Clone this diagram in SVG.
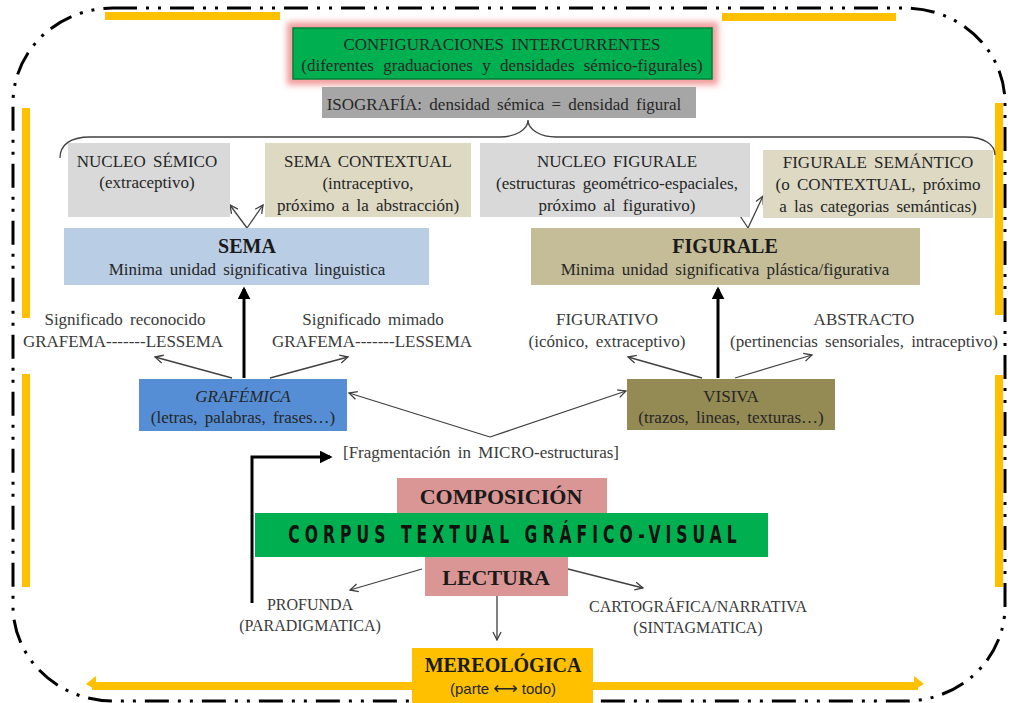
<svg xmlns="http://www.w3.org/2000/svg" width="1010" height="703" viewBox="0 0 1010 703">
<defs>
<style>
.s{font-family:"Liberation Serif","Times New Roman",serif;font-size:17px;fill:#262626;text-anchor:middle;word-spacing:3px}
.g{fill:#3a3a3a}
.sm{font-size:16px;word-spacing:1px}
.b{font-weight:bold;font-size:20px;fill:#1a1a1a}
.bb{font-weight:bold;font-size:22px;fill:#1a1a1a}
.thin{fill:none;stroke:#404040;stroke-width:1.3;marker-end:url(#open)}
.thick{fill:none;stroke:#000;stroke-width:3}
.ybar{fill:#FFC000}
</style>
<marker id="open" viewBox="0 0 10 10" refX="9" refY="5" markerWidth="10" markerHeight="10" orient="auto" markerUnits="userSpaceOnUse">
<path d="M1,1 L9,5 L1,9" fill="none" stroke="#404040" stroke-width="1.3"/>
</marker>
<marker id="solid" viewBox="0 0 10 10" refX="8" refY="5" markerWidth="13" markerHeight="13" orient="auto" markerUnits="userSpaceOnUse">
<path d="M0,0 L10,5 L0,10 z" fill="#000"/>
</marker>
<filter id="glow" x="-20%" y="-50%" width="140%" height="200%">
<feGaussianBlur stdDeviation="3"/>
</filter>
</defs>
<rect width="1010" height="703" fill="#fff"/>

<g id="frame">
<rect x="13" y="8" width="992" height="693" rx="100" ry="95" fill="none" stroke="#000" stroke-width="3" stroke-dasharray="24 9 3 9 3 9"/>
<rect class="ybar" x="105" y="12" width="175" height="8"/>
<rect class="ybar" x="722" y="13" width="174" height="8"/>
<rect class="ybar" x="22" y="108" width="8" height="210"/>
<rect class="ybar" x="22" y="374" width="8" height="213"/>
<rect class="ybar" x="995" y="103" width="8" height="212"/>
<rect class="ybar" x="995" y="375" width="8" height="212"/>
<rect class="ybar" x="92" y="682" width="826" height="8"/>
<polygon class="ybar" points="86,684 96,676 96,690"/>
<polygon class="ybar" points="924,684 914,676 914,690"/>
</g>

<g id="config">
<rect x="287" y="22" width="431" height="63" fill="#F29C9C" filter="url(#glow)"/>
<rect x="293" y="28" width="419" height="51" fill="#00B050" stroke="#00803A" stroke-width="1.5"/>
<text class="s" x="502" y="50">CONFIGURACIONES INTERCURRENTES</text>
<text class="s" x="502" y="71" style="word-spacing:5px">(diferentes graduaciones y densidades sémico-figurales)</text>
</g>

<g id="isografia">
<rect x="322" y="87" width="374" height="31" fill="#A6A6A6"/>
<text class="s" x="504" y="110">ISOGRAFÍA: densidad sémica = densidad figural</text>
</g>

<g id="connectors">
<path d="M60,158 C60,145 70,137 90,137 L500,137 C515,137 528,130 528,120 C528,130 541,137 556,137 L965,137 C985,137 995,145 995,155" fill="none" stroke="#404040" stroke-width="1.3"/>
<line class="thin" x1="247" y1="228" x2="230" y2="205"/>
<line class="thin" x1="247" y1="228" x2="263" y2="205"/>
<line class="thin" x1="748" y1="228" x2="727" y2="196"/>
<line class="thin" x1="748" y1="228" x2="763" y2="196"/>
<line class="thick" x1="244" y1="378" x2="244" y2="289" marker-end="url(#solid)"/>
<line class="thick" x1="718" y1="378" x2="718" y2="289" marker-end="url(#solid)"/>
<line class="thin" x1="232" y1="378" x2="155" y2="357"/>
<line class="thin" x1="270" y1="378" x2="348" y2="357"/>
<line class="thin" x1="702" y1="378" x2="628" y2="357"/>
<line class="thin" x1="735" y1="378" x2="812" y2="355"/>
<line class="thin" x1="490" y1="437" x2="349" y2="393"/>
<line class="thin" x1="490" y1="437" x2="626" y2="391"/>
<polyline class="thick" points="252,603 252,457 330,457" marker-end="url(#solid)"/>
<line class="thin" x1="422" y1="569" x2="350" y2="590"/>
<line class="thin" x1="568" y1="569" x2="643" y2="588"/>
<line class="thin" x1="497" y1="596" x2="497" y2="640"/>
</g>

<g id="nucleo-semico">
<rect x="68" y="143" width="162" height="74" fill="#D9D9D9"/>
<text class="s" x="147" y="167">NUCLEO SÉMICO</text>
<text class="s" x="147" y="188">(extraceptivo)</text>
</g>

<g id="sema-contextual">
<rect x="265" y="143" width="206" height="74" fill="#DDD9C3"/>
<text class="s" x="368" y="167">SEMA CONTEXTUAL</text>
<text class="s" x="368" y="189">(intraceptivo,</text>
<text class="s" x="368" y="211">próximo a la abstracción)</text>
</g>

<g id="nucleo-figurale">
<rect x="480" y="143" width="270" height="74" fill="#D9D9D9"/>
<text class="s" x="617" y="167">NUCLEO FIGURALE</text>
<text class="s" x="617" y="189">(estructuras geométrico-espaciales,</text>
<text class="s" x="617" y="211">próximo al figurativo)</text>
</g>

<g id="figurale-semantico">
<rect x="763" y="150" width="230" height="68" fill="#DDD9C3"/>
<text class="s" x="878" y="168">FIGURALE SEMÁNTICO</text>
<text class="s" x="878" y="190">(o CONTEXTUAL, próximo</text>
<text class="s" x="878" y="212">a las categorias semánticas)</text>
</g>

<g id="sema">
<rect x="64" y="228" width="365" height="57" fill="#B9CDE5"/>
<text class="s b" x="247" y="253">SEMA</text>
<text class="s" x="247" y="275">Minima unidad significativa linguistica</text>
</g>

<g id="figurale">
<rect x="531" y="228" width="389" height="57" fill="#C4BD97"/>
<text class="s b" x="725" y="253">FIGURALE</text>
<text class="s" x="725" y="275">Minima unidad significativa plástica/figurativa</text>
</g>

<g id="labels-sema">
<text class="s g" x="125" y="325">Significado reconocido</text>
<text class="s g" x="123" y="347">GRAFEMA-------LESSEMA</text>
<text class="s g" x="373" y="325">Significado mimado</text>
<text class="s g" x="372" y="347">GRAFEMA-------LESSEMA</text>
</g>

<g id="labels-figurale">
<text class="s g" x="607" y="325">FIGURATIVO</text>
<text class="s g" x="607" y="347">(icónico, extraceptivo)</text>
<text class="s g" x="864" y="325">ABSTRACTO</text>
<text class="s g" x="864" y="347">(pertinencias sensoriales, intraceptivo)</text>
</g>

<g id="grafemica">
<rect x="139" y="379" width="208" height="52" fill="#558ED5"/>
<text class="s" x="243" y="402" font-style="italic">GRAFÉMICA</text>
<text class="s" x="243" y="423">(letras, palabras, frases…)</text>
</g>

<g id="visiva">
<rect x="627" y="379" width="208" height="51" fill="#948A54"/>
<text class="s" x="731" y="402">VISIVA</text>
<text class="s" x="731" y="423">(trazos, lineas, texturas…)</text>
</g>

<g id="fragmentacion">
<text class="s g" x="481" y="458">[Fragmentación in MICRO-estructuras]</text>
</g>

<g id="composicion">
<rect x="397" y="478" width="210" height="35" fill="#DA9694"/>
<text class="s bb" x="501" y="504">COMPOSICIÓN</text>
</g>

<g id="corpus">
<rect x="255" y="513" width="513" height="44" fill="#00B050"/>
<text x="0" y="0" transform="translate(512.5,543) scale(0.72,1)" text-anchor="middle" textLength="623" lengthAdjust="spacing" style="font-family:'DejaVu Sans Condensed','DejaVu Sans',sans-serif;font-stretch:condensed;font-weight:bold;font-size:24px;fill:#111">CORPUS TEXTUAL GRÁFICO-VISUAL</text>
</g>

<g id="lectura">
<rect x="425" y="557" width="143" height="39" fill="#DA9694"/>
<text class="s bb" x="496" y="585">LECTURA</text>
</g>

<g id="profunda">
<text class="s g sm" x="310" y="610">PROFUNDA</text>
<text class="s g sm" x="310" y="631">(PARADIGMATICA)</text>
</g>

<g id="cartografica">
<text class="s g sm" x="698" y="612">CARTOGRÁFICA/NARRATIVA</text>
<text class="s g sm" x="698" y="633">(SINTAGMATICA)</text>
</g>

<g id="mereologica">
<rect x="412" y="648" width="181" height="55" fill="#FFC000"/>
<text class="s b" x="503" y="672">MEREOLÓGICA</text>
<text x="503" y="694" text-anchor="middle" style="font-family:'Liberation Sans Narrow','Liberation Sans','DejaVu Sans',sans-serif;font-size:15px;fill:#262626">(parte <tspan style="font-family:'DejaVu Sans',sans-serif;font-size:17px">⟷</tspan> todo)</text>
</g>
</svg>
